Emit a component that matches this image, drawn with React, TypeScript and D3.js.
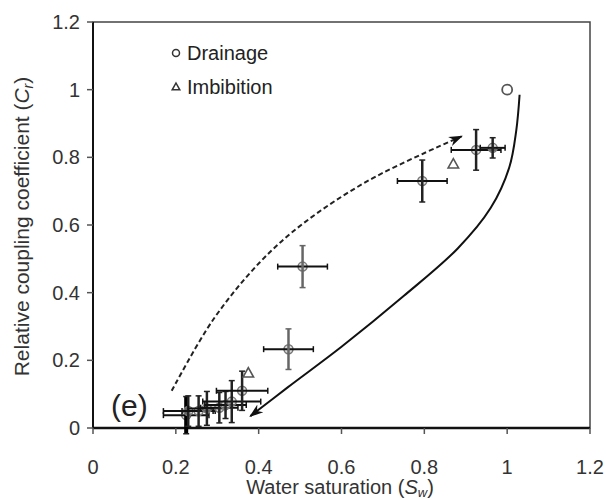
import React from "react";
import * as d3 from "d3";

// ---- data ----
const xTicks = [0, 0.2, 0.4, 0.6, 0.8, 1, 1.2];
const yTicks = [0, 0.2, 0.4, 0.6, 0.8, 1, 1.2];
const xTickLabels = ["0", "0.2", "0.4", "0.6", "0.8", "1", "1.2"];
const yTickLabels = ["0", "0.2", "0.4", "0.6", "0.8", "1", "1.2"];

// measured points with error bars: Sw, Cr, xerr, yerr
const errSw = [0.225, 0.23, 0.255, 0.275, 0.305, 0.32, 0.335, 0.36, 0.472, 0.506, 0.795, 0.925, 0.965];
const errCr = [0.038, 0.05, 0.05, 0.058, 0.06, 0.068, 0.078, 0.11, 0.233, 0.477, 0.73, 0.822, 0.828];
const errX = [0.055, 0.06, 0.04, 0.045, 0.045, 0.05, 0.07, 0.062, 0.06, 0.06, 0.06, 0.06, 0.03];
const errY = [0.055, 0.045, 0.045, 0.05, 0.045, 0.04, 0.062, 0.058, 0.06, 0.062, 0.062, 0.06, 0.03];

const drainageSw = [1.0];
const drainageCr = [1.0];
const imbibitionSw = [0.87, 0.375];
const imbibitionCr = [0.78, 0.162];

// hysteresis guide curves (ascending Sw)
const dashedSw = [0.19, 0.29, 0.403, 0.508, 0.669, 0.89];
const dashedCr = [0.11, 0.32, 0.49, 0.605, 0.734, 0.862];
const solidSw = [0.38, 0.47, 0.6, 0.75, 0.88, 0.96, 1.005, 1.022, 1.03];
const solidCr = [0.035, 0.12, 0.24, 0.39, 0.53, 0.65, 0.77, 0.88, 0.985];

const W = 606;
const H = 499;
const left = 93, right = 590, top = 22, bottom = 428;

export default function App() {
  const x = d3.scaleLinear().domain([0, 1.2]).range([left, right]);
  const y = d3.scaleLinear().domain([0, 1.2]).range([bottom, top]);
  const line = d3
    .line<[number, number]>()
    .x((d) => x(d[0]))
    .y((d) => y(d[1]))
    .curve(d3.curveCatmullRom.alpha(0.5));
  const dashedPts: [number, number][] = dashedSw.map((s, i) => [s, dashedCr[i]]);
  const solidPts: [number, number][] = solidSw.map((s, i) => [s, solidCr[i]]);
  const font = "'Liberation Sans', Arial, Helvetica, sans-serif";
  const tri = (cx: number, cy: number, s: number) =>
    `M${cx},${cy - s} L${cx + s * 0.95},${cy + s * 0.7} L${cx - s * 0.95},${cy + s * 0.7} Z`;

  return (
    <svg width={W} height={H} style={{ position: "absolute", left: 0, top: 0, background: "#fff" }} fontFamily={font}>
      <defs>
        <marker id="arr" viewBox="0 0 10 10" refX="9" refY="5" markerWidth="7" markerHeight="7" orient="auto-start-reverse" markerUnits="strokeWidth">
          <path d="M0,1.5 L10,5 L0,8.5 L3,5 Z" fill="#111" />
        </marker>
      </defs>
      {/* frame */}
      <rect x={left} y={top} width={right - left} height={bottom - top} fill="none" stroke="#444" strokeWidth={1.5} />
      <line x1={left} x2={left} y1={top} y2={bottom} stroke="#111" strokeWidth={2} />
      <line x1={left} x2={right} y1={bottom} y2={bottom} stroke="#111" strokeWidth={2.5} />
      {/* ticks */}
      {xTicks.map((t, i) => (
        <g key={"xt" + i}>
          <line x1={x(t)} x2={x(t)} y1={bottom} y2={bottom + 6} stroke="#555" strokeWidth={1.5} />
          <text x={x(t)} y={474} textAnchor="middle" fontSize={20} fill="#333">
            {xTickLabels[i]}
          </text>
        </g>
      ))}
      {yTicks.map((t, i) => (
        <g key={"yt" + i}>
          <line x1={left - 6} x2={left} y1={y(t)} y2={y(t)} stroke="#555" strokeWidth={1.5} />
          <text x={80} y={y(t) + 7} textAnchor="end" fontSize={20} fill="#333">
            {yTickLabels[i]}
          </text>
        </g>
      ))}
      {/* axis titles */}
      <text x={340} y={494} textAnchor="middle" fontSize={20} fill="#333">
        Water saturation (<tspan fontStyle="italic">S</tspan>
        <tspan fontSize={13} fontStyle="italic" dy={3}>w</tspan>
        <tspan dy={-3}>)</tspan>
      </text>
      <text transform={`translate(29,${(70 + 383) / 2}) rotate(-90)`} textAnchor="middle" fontSize={21} fill="#333">
        Relative coupling coefficient (<tspan fontStyle="italic">C</tspan>
        <tspan fontSize={14} fontStyle="italic" dy={4}>r</tspan>
        <tspan dy={-4}>)</tspan>
      </text>
      {/* legend */}
      <circle cx={176} cy={53} r={3.5} fill="none" stroke="#333" strokeWidth={1.5} />
      <text x={187} y={60} fontSize={20} fill="#222">Drainage</text>
      <path d={tri(176, 87, 4)} fill="none" stroke="#333" strokeWidth={1.5} />
      <text x={187} y={94} fontSize={20} fill="#222">Imbibition</text>
      {/* (e) label */}
      <text x={111} y={416} fontSize={30} fill="#222">(e)</text>
      {/* guide curves */}
      <path d={line(dashedPts) || ""} fill="none" stroke="#222" strokeWidth={2} strokeDasharray="5,3" markerEnd="url(#arr)" />
      <path d={line(solidPts) || ""} fill="none" stroke="#111" strokeWidth={2} markerStart="url(#arr)" />
      {/* error bar points */}
      {errSw.map((s, i) => {
        const cx = x(s), cy = y(errCr[i]);
        const x0 = x(s - errX[i]), x1 = x(s + errX[i]);
        const y0 = y(errCr[i] - errY[i]), y1 = y(errCr[i] + errY[i]);
        const mid = errCr[i] > 0.2 && errCr[i] < 0.6;
        const vCol = mid ? "#666" : "#222";
        const heavy = i === 0;
        return (
          <g key={"e" + i}>
            <circle cx={cx} cy={cy} r={4.5} fill="#bbb" fillOpacity={0.5} stroke="#777" strokeWidth={1.5} />
            <line x1={x0} x2={x1} y1={cy} y2={cy} stroke="#111" strokeWidth={2} />
            <line x1={x0} x2={x0} y1={cy - 3} y2={cy + 3} stroke="#111" strokeWidth={1.5} />
            <line x1={x1} x2={x1} y1={cy - 3} y2={cy + 3} stroke="#111" strokeWidth={1.5} />
            <line x1={cx} x2={cx} y1={y0} y2={y1} stroke={heavy ? "#000" : vCol} strokeWidth={heavy ? 4 : 2.5} />
            <line x1={cx - 3} x2={cx + 3} y1={y0} y2={y0} stroke={vCol} strokeWidth={1.5} />
            <line x1={cx - 3} x2={cx + 3} y1={y1} y2={y1} stroke={vCol} strokeWidth={1.5} />
          </g>
        );
      })}
      {/* drainage / imbibition single markers */}
      {drainageSw.map((s, i) => (
        <circle key={"d" + i} cx={x(s)} cy={y(drainageCr[i])} r={5} fill="none" stroke="#555" strokeWidth={1.8} />
      ))}
      {imbibitionSw.map((s, i) => (
        <path key={"m" + i} d={tri(x(s), y(imbibitionCr[i]), 5.5)} fill="none" stroke="#555" strokeWidth={1.6} />
      ))}
    </svg>
  );
}
